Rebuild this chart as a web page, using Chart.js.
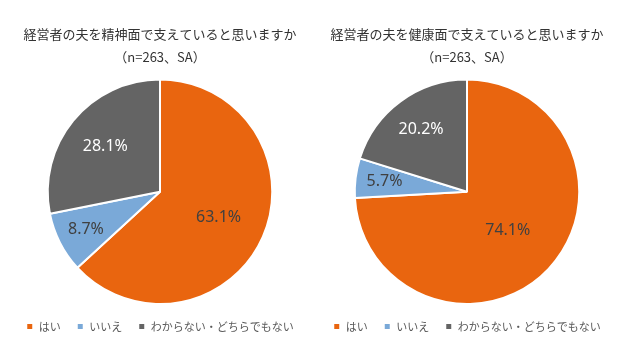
<!DOCTYPE html>
<html>
<head>
<meta charset="utf-8">
<script src="https://cdn.jsdelivr.net/npm/chart.js@4.4.0/dist/chart.umd.min.js"></script>
<style>
  body { margin: 0; background: #fff; }
  .box { position: absolute; top: 0; height: 360px; }
  #left { left: 0; width: 320px; }
  #right { left: 308px; width: 318px; }
</style>
</head>
<body>
<div class="box" id="left"><canvas id="c1"></canvas></div>
<div class="box" id="right"><canvas id="c2"></canvas></div>
<script>
// data
var labels = ['はい', 'いいえ', 'わからない・どちらでもない'];
var mentalValues = [63.1, 8.7, 28.1];
var healthValues = [74.1, 5.7, 20.2];
var mentalTitle = ['経営者の夫を精神面で支えていると思いますか', '（n=263、SA）'];
var healthTitle = ['経営者の夫を健康面で支えていると思いますか', '（n=263、SA）'];

var colors = ['#E9650F', '#7AA9D8', '#646464'];
var labelColors = ['#404040', '#404040', '#ffffff'];
var FONT = '"Noto Sans CJK JP", "Noto Sans", sans-serif';

// draws the percent text inside each slice
var sliceLabels = {
  id: 'sliceLabels',
  afterDatasetsDraw: function(chart, args, opts) {
    var ctx = chart.ctx;
    var meta = chart.getDatasetMeta(0);
    var vals = chart.data.datasets[0].data;
    ctx.save();
    ctx.font = '16px "Noto Sans", sans-serif';
    ctx.textAlign = 'center';
    ctx.textBaseline = 'middle';
    meta.data.forEach(function(arc, i) {
      var p = arc.getProps(['x', 'y', 'startAngle', 'endAngle', 'outerRadius']);
      var mid = (p.startAngle + p.endAngle) / 2;
      var r = p.outerRadius * opts.fractions[i];
      ctx.fillStyle = labelColors[i];
      ctx.fillText(vals[i].toFixed(1) + '%', p.x + Math.cos(mid) * r, p.y + Math.sin(mid) * r);
    });
    ctx.restore();
  }
};

function makePie(id, values, title, fractions) {
  return new Chart(document.getElementById(id), {
    type: 'pie',
    data: {
      labels: labels,
      datasets: [{
        data: values,
        backgroundColor: colors,
        borderColor: '#ffffff',
        borderWidth: 2
      }]
    },
    options: {
      responsive: true,
      maintainAspectRatio: false,
      animation: false,
      layout: { padding: { top: 17, bottom: 18, left: 0, right: 0 } },
      plugins: {
        title: {
          display: true,
          text: title,
          color: '#333333',
          font: { family: FONT, size: 13, weight: 'normal', lineHeight: 1.75 },
          padding: { top: 6, bottom: 10 }
        },
        legend: {
          position: 'bottom',
          labels: {
            color: '#595959',
            font: { family: FONT, size: 11 },
            boxWidth: 7,
            boxHeight: 7,
            padding: 16
          }
        },
        tooltip: { enabled: false },
        sliceLabels: { fractions: fractions }
      }
    },
    plugins: [sliceLabels]
  });
}

makePie('c1', mentalValues, mentalTitle, [0.57, 0.74, 0.63]);
makePie('c2', healthValues, healthTitle, [0.5, 0.74, 0.69]);
</script>
</body>
</html>
